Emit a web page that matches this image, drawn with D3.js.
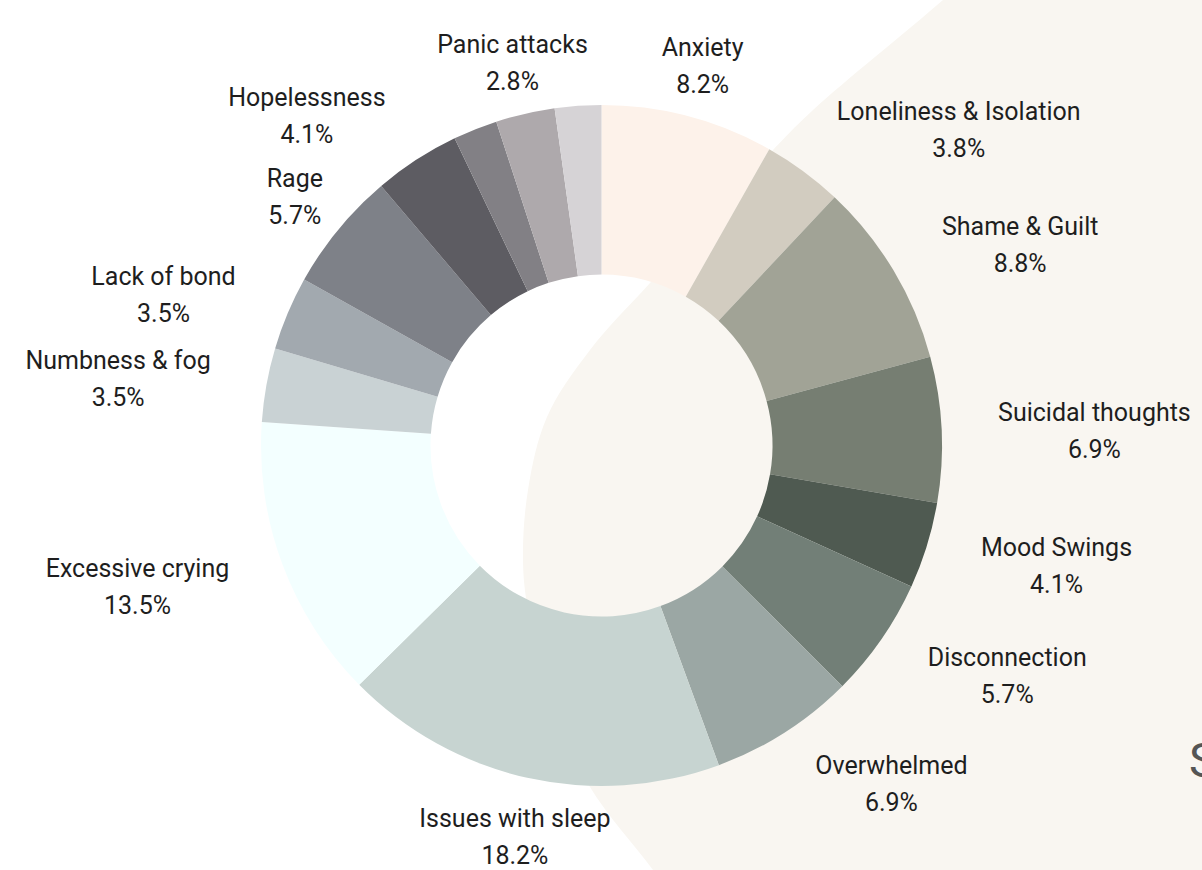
<!DOCTYPE html>
<html>
<head>
<meta charset="utf-8">
<script src="https://cdn.jsdelivr.net/npm/d3@7"></script>
<style>
  html, body { margin: 0; padding: 0; background: #ffffff; overflow: hidden; }
  svg text { font-family: Roboto, "Noto Sans", sans-serif; }
</style>
</head>
<body>
<svg id="chart" width="1202" height="870"></svg>
<script>
// ---- data ----
const categories = ["Anxiety", "Loneliness & Isolation", "Shame & Guilt", "Suicidal thoughts",
  "Mood Swings", "Disconnection", "Overwhelmed", "Issues with sleep", "Excessive crying",
  "Numbness & fog", "Lack of bond", "Rage", "Hopelessness", "", "Panic attacks", ""];
const values = [8.2, 3.8, 8.8, 6.9, 4.1, 5.7, 6.9, 18.2, 13.5, 3.5, 3.5, 5.7, 4.1, 2.1, 2.8, 2.2];
const colors = ["#fdf2ea", "#d2ccc0", "#a1a396", "#767e72", "#4f5a51", "#727f77", "#9ba7a4",
  "#c7d4d1", "#f3ffff", "#c9d2d4", "#a2a9af", "#7e8188", "#5d5c62", "#828085", "#aea9ac", "#d6d3d6"];
const partialTitle = "S";

// ---- layout ----
const W = 1202, H = 870;
const cx = 601.5, cy = 445.5;
const outerR = 340.5, innerR = 171;
const labelR = outerR + 56.5;
const fontSize = 25;

const svg = d3.select("#chart");

// decorative beige blob behind the chart
const blobEdge = [[1010, -60], [943, 0], [813, 110], [773, 150], [650, 283], [590, 350],
  [547, 417], [528, 490], [523, 560], [528, 610], [552, 705], [590, 787], [653, 870], [700, 935]];
const blobPath = d3.line().curve(d3.curveCatmullRom.alpha(0.5))(blobEdge) + "L1300,935L1300,-60Z";
svg.append("path").attr("d", blobPath).attr("fill", "#f9f6f1");

svg.append("text")
  .attr("x", 1189).attr("y", 777)
  .attr("font-size", 48).attr("fill", "#555555")
  .text(partialTitle);

const data = categories.map((c, i) => ({ name: c, value: values[i], color: colors[i] }));
const pie = d3.pie().sort(null).value(d => d.value);
const arcs = pie(data);
const arc = d3.arc().innerRadius(innerR).outerRadius(outerR);

const g = svg.append("g").attr("transform", `translate(${cx},${cy})`);
g.selectAll("path.slice").data(arcs).enter().append("path")
  .attr("class", "slice")
  .attr("d", arc)
  .attr("fill", d => d.data.color);

// labels
const pad = 6;
arcs.filter(d => d.data.name).forEach(d => {
  const mid = (d.startAngle + d.endAngle) / 2;
  const px = labelR * Math.sin(mid);
  const py = -labelR * Math.cos(mid);
  const lg = g.append("g");
  const t1 = lg.append("text").attr("text-anchor", "middle").attr("font-size", fontSize)
    .attr("fill", "#1e1e1e").attr("y", py - 6).text(d.data.name);
  const t2 = lg.append("text").attr("text-anchor", "middle").attr("font-size", fontSize)
    .attr("fill", "#1e1e1e").attr("y", py + 31).text(d3.format(".1f")(d.data.value) + "%");
  const w = Math.max(t1.node().getComputedTextLength(), t2.node().getComputedTextLength());
  // check whether a centered block would collide with the donut
  const x0 = px - w / 2 - pad, x1 = px + w / 2 + pad;
  const y0 = py - 24 - pad, y1 = py + 31 + pad;
  const qx = Math.max(x0, Math.min(0, x1));
  const qy = Math.max(y0, Math.min(0, y1));
  const overlap = Math.hypot(qx, qy) < outerR;
  const shift = overlap ? Math.sign(Math.sin(mid)) * w / 2 : 0;
  t1.attr("x", px + shift);
  t2.attr("x", px + shift);
});
</script>
</body>
</html>
